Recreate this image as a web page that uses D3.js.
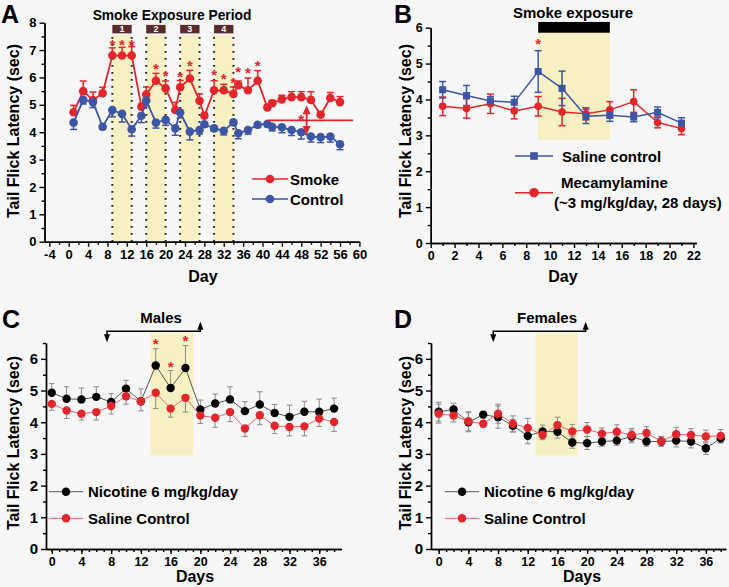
<!DOCTYPE html>
<html><head><meta charset="utf-8">
<script src="https://cdn.jsdelivr.net/npm/d3@7"></script>
<style>
body{margin:0;background:#f7f7f7;}
svg{display:block;font-family:"Liberation Sans",Arial,Helvetica,sans-serif;font-weight:bold;}
</style></head><body>
<svg id="c" width="729" height="587"></svg>
<script>
// ---------- Panel A data ----------
const aDays = [1,3,5,7,9,11,13,15,16,18,20,22,23,25,27,28,30,32,34,35,37,39,41,42,44,46,48,50,52,54,56];
const aSmoke = [4.73,5.5,5.17,5.42,6.8,6.8,6.8,4.93,5.38,5.88,5.6,4.81,5.64,5.96,5.15,4.6,5.53,5.53,5.4,5.72,5.53,5.88,4.9,5.06,5.2,5.28,5.28,5.18,4.64,5.25,5.1];
const aSmokeErr = [0.25,0.37,0.3,0.22,0.28,0.3,0.33,0.1,0.27,0.27,0.27,0.28,0.25,0.3,0.25,0.1,0.35,0.22,0.25,0.15,0.45,0.37,0.1,0.1,0.15,0.2,0.2,0.3,0.1,0.2,0.2];
const aControl = [4.35,5.18,5.1,4.2,4.81,4.67,4.11,4.6,5.16,4.35,4.45,4.14,4.72,4.02,4.08,4.29,4.14,4.05,4.36,3.96,4.08,4.27,4.3,4.2,4.18,4.08,4.0,3.84,3.82,3.84,3.56];
const aControlErr = [0.25,0.15,0.2,0.1,0.25,0.3,0.25,0.25,0.2,0.2,0.2,0.25,0.2,0.3,0.15,0.1,0.1,0.15,0.1,0.2,0.15,0.1,0.1,0.15,0.2,0.2,0.25,0.2,0.2,0.2,0.2];
const aStarDays = [9,11,13,18,20,23,25,30,32,34,35,37,39,48];
const aStarVals = [7.3,7.3,7.3,6.43,6.18,6.13,6.54,6.21,6.05,5.9,6.3,6.27,6.54,4.57];
const aPeriods = [[9,13],[16,20],[23,27],[30,34]];
const aPeriodLabels = ["1","2","3","4"];
const aXTicks = [-4,0,4,8,12,16,20,24,28,32,36,40,44,48,52,56,60];
const aYTicks = [0,1,2,3,4,5,6,7,8];
const aSeries = ["Smoke","Control"];

// ---------- Panel B data ----------
const bDays = [1,3,5,7,9,11,13,15,17,19,21];
const bSaline = [4.27,4.11,3.96,3.92,4.78,4.31,3.53,3.56,3.51,3.64,3.34];
const bSalineErr = [0.23,0.28,0.12,0.17,0.58,0.48,0.2,0.17,0.13,0.15,0.15];
const bMec = [3.81,3.75,3.88,3.68,3.81,3.65,3.6,3.71,3.94,3.36,3.19];
const bMecErr = [0.26,0.27,0.27,0.22,0.27,0.38,0.17,0.23,0.33,0.15,0.17];
const bXTicks = [0,2,4,6,8,10,12,14,16,18,20,22];
const bYTicks = [0,1,2,3,4,5,6];
const bExposure = [9,15];

// ---------- Panel C data (Males) ----------
const cdDays = [0,2,4,6,8,10,12,14,16,18,20,22,24,26,28,30,32,34,36,38];
const cNic = [4.93,4.74,4.72,4.8,4.64,5.06,4.66,5.79,5.08,5.71,4.4,4.59,4.72,4.35,4.56,4.29,4.17,4.33,4.33,4.43];
const cNicErr = [0.29,0.38,0.36,0.32,0.26,0.26,0.39,0.53,0.55,0.71,0.3,0.3,0.4,0.3,0.4,0.27,0.37,0.33,0.4,0.33];
const cSal = [4.58,4.37,4.27,4.32,4.51,4.82,4.66,4.93,4.43,4.77,4.21,4.14,4.32,3.8,4.22,3.89,3.85,3.87,4.12,4.01];
const cSalErr = [0.2,0.25,0.2,0.25,0.25,0.25,0.3,0.5,0.27,0.45,0.25,0.3,0.3,0.25,0.3,0.25,0.28,0.3,0.25,0.3];
const cStarDays = [14,16,18];
const cStarVals = [6.56,5.85,6.66];

// ---------- Panel D data (Females) ----------
const dNic = [4.33,4.4,4.0,4.24,4.16,3.89,3.57,3.71,3.7,3.36,3.34,3.39,3.42,3.55,3.39,3.39,3.42,3.39,3.18,3.49];
const dNicErr = [0.3,0.2,0.3,0.1,0.35,0.2,0.25,0.2,0.2,0.18,0.2,0.15,0.15,0.2,0.15,0.15,0.2,0.2,0.2,0.15];
const dSal = [4.27,4.21,4.03,3.95,4.27,3.95,3.82,3.6,3.91,3.71,3.77,3.64,3.7,3.6,3.66,3.4,3.62,3.6,3.55,3.57];
const dSalErr = [0.3,0.2,0.3,0.1,0.3,0.25,0.3,0.15,0.25,0.22,0.22,0.18,0.22,0.2,0.2,0.15,0.22,0.2,0.2,0.2];
const cdXTicks = [0,4,8,12,16,20,24,28,32,36];
const cdYTicks = [0,1,2,3,4,5,6];
const cdSeries = ["Nicotine 6 mg/kg/day","Saline Control"];

// ---------- styling ----------
const RED = "#e3262b", BLUE = "#3c55a5", SHADE = "#f7f0c2", BROWN = "#5a2b2b", GRAY = "#8c8c8c";
const svg = d3.select("#c");
const range = (a,b,s) => d3.range(a, b + s/2, s);
const fmt = d => String(d);

function drawAxes(x, y, o) {
  const x0 = x.range()[0], y0 = y.range()[0];
  const mk = (gen, tx, ty) => {
    const g = svg.append("g").attr("transform", `translate(${tx},${ty})`).call(gen);
    g.attr("font-family", null).attr("font-size", null);
    g.selectAll("path,line").attr("stroke", "#000").attr("stroke-width", 1.4);
    return g;
  };
  mk(d3.axisLeft(y).tickValues(o.yMinor).tickSize(3).tickFormat("").tickSizeOuter(0), x0, 0);
  const gy = mk(d3.axisLeft(y).tickValues(o.yMajor).tickSize(5).tickPadding(3).tickFormat(fmt).tickSizeOuter(0), x0, 0);
  gy.selectAll("text").attr("font-size", o.fsY).attr("font-weight", "bold").attr("fill", "#000");
  mk(d3.axisBottom(x).tickValues(o.xMinor).tickSize(3).tickFormat("").tickSizeOuter(0), 0, y0);
  const gx = mk(d3.axisBottom(x).tickValues(o.xMajor).tickSize(5).tickPadding(3).tickFormat(fmt).tickSizeOuter(0), 0, y0);
  gx.selectAll("text").attr("font-size", o.fsX).attr("font-weight", "bold").attr("fill", "#000");
}

function text(x, y, s, fs, anchor, rot, fill) {
  const t = svg.append("text").attr("x", x).attr("y", y).text(s)
    .attr("font-size", fs).attr("text-anchor", anchor || "start").attr("fill", fill || "#000");
  if (rot) t.attr("transform", `rotate(${rot},${x},${y})`);
  return t;
}

function errBars(x, y, days, vals, errs, dir, color, cap, w) {
  const g = svg.append("g").attr("stroke", color).attr("stroke-width", w || 1.5).attr("fill", "none");
  days.forEach((d, i) => {
    const cx = x(d);
    const hi = dir === "down" ? vals[i] : vals[i] + errs[i];
    const lo = dir === "up" ? vals[i] : vals[i] - errs[i];
    g.append("line").attr("x1", cx).attr("x2", cx).attr("y1", y(hi)).attr("y2", y(lo));
    if (dir !== "down") g.append("line").attr("x1", cx - cap).attr("x2", cx + cap).attr("y1", y(hi)).attr("y2", y(hi));
    if (dir !== "up") g.append("line").attr("x1", cx - cap).attr("x2", cx + cap).attr("y1", y(lo)).attr("y2", y(lo));
  });
}

function series(x, y, days, vals, lineColor, lw, ptColor, r, shape) {
  const line = d3.line().x((d, i) => x(days[i])).y(d => y(d));
  svg.append("path").datum(vals).attr("d", line).attr("fill", "none").attr("stroke", lineColor).attr("stroke-width", lw);
  const g = svg.append("g").attr("fill", ptColor);
  if (shape === "square") {
    g.selectAll("rect").data(vals).join("rect")
      .attr("x", (d, i) => x(days[i]) - r).attr("y", d => y(d) - r).attr("width", 2 * r).attr("height", 2 * r);
  } else {
    g.selectAll("circle").data(vals).join("circle")
      .attr("cx", (d, i) => x(days[i])).attr("cy", d => y(d)).attr("r", r);
  }
}

function stars(x, y, days, vals, fs) {
  days.forEach((d, i) => text(x(d), y(vals[i]) + fs * 0.55, "*", fs, "middle", 0, RED));
}

function legendItem(x1, x2, cy, lineColor, lw, ptColor, r, shape) {
  svg.append("line").attr("x1", x1).attr("x2", x2).attr("y1", cy).attr("y2", cy).attr("stroke", lineColor).attr("stroke-width", lw);
  const cx = (x1 + x2) / 2;
  if (shape === "square") svg.append("rect").attr("x", cx - r).attr("y", cy - r).attr("width", 2 * r).attr("height", 2 * r).attr("fill", ptColor);
  else svg.append("circle").attr("cx", cx).attr("cy", cy).attr("r", r).attr("fill", ptColor);
}

function arrowHead(px, py, dir, w, h, color) {
  const s = dir === "up" ? -1 : 1;
  svg.append("path").attr("d", `M${px},${py} L${px - w / 2},${py - s * h} L${px + w / 2},${py - s * h} Z`).attr("fill", color);
}

// ================= Panel A =================
{
  const x = d3.scaleLinear().domain([-5, 60]).range([44.5, 359.4]);
  const y = d3.scaleLinear().domain([0, 8]).range([241.7, 22.7]);
  aPeriods.forEach((p, i) => {
    svg.append("rect").attr("x", x(p[0])).attr("width", x(p[1]) - x(p[0]))
      .attr("y", y(7.55)).attr("height", y(0) - y(7.55)).attr("fill", SHADE);
    p.forEach(d => svg.append("line").attr("x1", x(d)).attr("x2", x(d)).attr("y1", y(0)).attr("y2", y(7.55))
      .attr("stroke", "#222").attr("stroke-width", 2).attr("stroke-dasharray", "1.8,5.2"));
    svg.append("rect").attr("x", x(p[0])).attr("width", x(p[1]) - x(p[0]))
      .attr("y", y(7.92)).attr("height", y(7.61) - y(7.92)).attr("fill", BROWN);
    text((x(p[0]) + x(p[1])) / 2, y(7.61) - 1.5, aPeriodLabels[i], 9, "middle", 0, "#fff");
  });
  drawAxes(x, y, {xMajor: aXTicks, xMinor: range(-2, 58, 4), yMajor: aYTicks, yMinor: range(0.5, 7.5, 1), fsX: 13, fsY: 13});
  errBars(x, y, aDays, aSmoke, aSmokeErr, "up", RED, 3.5, 1.5);
  errBars(x, y, aDays, aControl, aControlErr, "down", BLUE, 3.5, 1.5);
  series(x, y, aDays, aSmoke, RED, 1.8, RED, 4.3);
  series(x, y, aDays, aControl, BLUE, 1.8, BLUE, 4.3);
  stars(x, y, aStarDays, aStarVals, 15);
  svg.append("line").attr("x1", x(41)).attr("x2", x(58.7)).attr("y1", y(4.43)).attr("y2", y(4.43)).attr("stroke", RED).attr("stroke-width", 1.8);
  svg.append("line").attr("x1", x(49.1)).attr("x2", x(49.1)).attr("y1", y(4.85)).attr("y2", y(4.02)).attr("stroke", RED).attr("stroke-width", 1.8);
  arrowHead(x(49.1), y(4.98), "up", 8, 9, RED);
  arrowHead(x(49.1), y(3.9), "down", 8, 9, RED);
  text(172, 19.5, "Smoke Exposure Period", 13.8, "middle");
  text(1, 23, "A", 25, "start");
  text(13, 131, "Tail Flick Latency (sec)", 16, "middle", -90).attr("dy", "0.35em");
  text(203, 282, "Day", 16, "middle");
  legendItem(252, 288, 179, RED, 1.6, RED, 4.3);
  legendItem(252, 288, 199, BLUE, 1.6, BLUE, 4.3);
  text(290, 184.5, aSeries[0], 15);
  text(290, 204.5, aSeries[1], 15);
}

// ================= Panel B =================
{
  const x = d3.scaleLinear().domain([0, 22.25]).range([430.7, 696.4]);
  const y = d3.scaleLinear().domain([0, 6]).range([243, 27.7]);
  svg.append("rect").attr("x", x(bExposure[0])).attr("width", x(bExposure[1]) - x(bExposure[0]))
    .attr("y", y(5.86)).attr("height", y(2.87) - y(5.86)).attr("fill", SHADE);
  svg.append("rect").attr("x", x(bExposure[0])).attr("width", x(bExposure[1]) - x(bExposure[0]))
    .attr("y", y(6.16)).attr("height", y(5.86) - y(6.16)).attr("fill", "#000");
  drawAxes(x, y, {xMajor: bXTicks, xMinor: range(1, 21, 2), yMajor: bYTicks, yMinor: range(0.5, 5.5, 1), fsX: 12.5, fsY: 12.5});
  errBars(x, y, bDays, bMec, bMecErr, "both", RED, 3.5, 1.5);
  errBars(x, y, bDays, bSaline, bSalineErr, "both", BLUE, 3.5, 1.5);
  series(x, y, bDays, bMec, RED, 1.5, RED, 3.8);
  series(x, y, bDays, bSaline, BLUE, 1.5, BLUE, 3.5, "square");
  stars(x, y, [9], [5.64], 15);
  text(573, 17.5, "Smoke exposure", 15, "middle");
  text(394, 23, "B", 25, "start");
  text(405, 131, "Tail Flick Latency (sec)", 16, "middle", -90).attr("dy", "0.35em");
  text(563, 282, "Day", 16, "middle");
  legendItem(515, 553, 156, BLUE, 1.4, BLUE, 3.8, "square");
  legendItem(515, 553, 192.7, RED, 1.4, RED, 4.8);
  text(562, 161.5, "Saline control", 15);
  text(561, 188, "Mecamylamine", 15);
  text(554, 208, "(~3 mg/kg/day, 28 days)", 15);
}

// ================= Panels C & D =================
function panelCD(o) {
  const x = d3.scaleLinear().domain(o.xDom).range(o.xRange);
  const y = d3.scaleLinear().domain([0, 6.5]).range([549, 343]);
  svg.append("rect").attr("x", x(o.shade[0])).attr("width", x(o.shade[1]) - x(o.shade[0]))
    .attr("y", y(6.82)).attr("height", y(2.95) - y(6.82)).attr("fill", SHADE);
  drawAxes(x, y, {xMajor: cdXTicks, xMinor: d3.range(0, 39, 1), yMajor: cdYTicks, yMinor: range(0.5, 6.5, 1), fsX: 12.5, fsY: 15});
  errBars(x, y, cdDays, o.nic, o.nicErr, o.nicDir, GRAY, 2.8, 1);
  errBars(x, y, cdDays, o.sal, o.salErr, o.salDir, GRAY, 2.8, 1);
  series(x, y, cdDays, o.nic, "#555", 1, "#000", 4.2);
  series(x, y, cdDays, o.sal, "#ea6468", 1, RED, 4.2);
  if (o.stars) stars(x, y, o.stars[0], o.stars[1], 15);
  const ay = y(6.87);
  svg.append("path").attr("d", `M${x(o.arrow[0])},${y(6.6)} L${x(o.arrow[0])},${ay} L${x(o.arrow[1])},${ay} L${x(o.arrow[1])},${y(7.1)}`)
    .attr("fill", "none").attr("stroke", "#000").attr("stroke-width", 1.5);
  arrowHead(x(o.arrow[0]), y(6.52), "down", 6, 8, "#000");
  arrowHead(x(o.arrow[1]), y(7.17), "up", 6, 8, "#000");
  text(o.titleX, 323, o.title, 15, "middle");
  text(o.letterX, 328, o.letter, 25, "start");
  text(o.yTitleX, 443, "Tail Flick Latency (sec)", 16, "middle", -90).attr("dy", "0.35em");
  text(o.xTitleX, 581.5, "Days", 16, "middle");
  legendItem(o.legX, o.legX + 34, 491.7, "#555", 1, "#000", 4.2);
  legendItem(o.legX, o.legX + 34, 518.3, "#ea6468", 1, RED, 4.2);
  text(o.legX + 39, 497, cdSeries[0], 15);
  text(o.legX + 39, 523.5, cdSeries[1], 15);
}
panelCD({xDom: [-0.77, 39], xRange: [46, 341.5], shade: [13.3, 19.05], nic: cNic, nicErr: cNicErr, nicDir: "up",
  sal: cSal, salErr: cSalErr, salDir: "down", stars: [cStarDays, cStarVals], arrow: [7.44, 20],
  title: "Males", titleX: 161, letter: "C", letterX: 2, yTitleX: 13, xTitleX: 195, legX: 49});
panelCD({xDom: [-1.04, 38.7], xRange: [431, 725.9], shade: [13.05, 18.7], nic: dNic, nicErr: dNicErr, nicDir: "both",
  sal: dSal, salErr: dSalErr, salDir: "both", stars: null, arrow: [7.35, 19.8],
  title: "Females", titleX: 547, letter: "D", letterX: 394, yTitleX: 405, xTitleX: 582, legX: 445});
</script>
</body></html>
